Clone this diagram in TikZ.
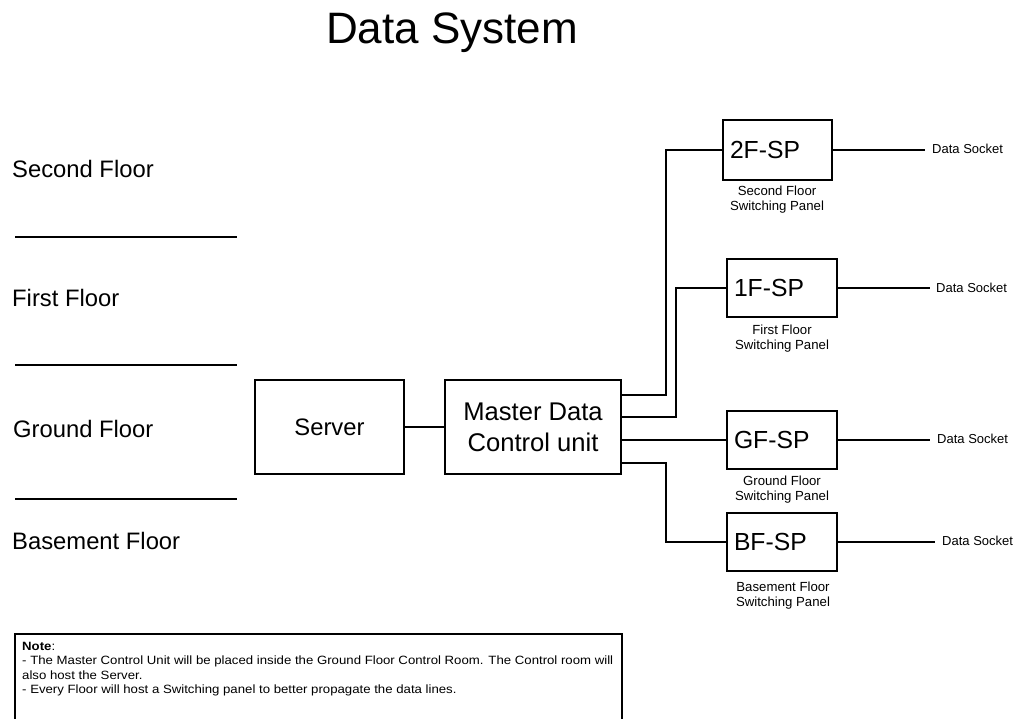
\documentclass[tikz,border=0pt]{standalone}
\usepackage{fontspec}
\setmainfont{Liberation Sans}
\newfontfamily\notefont[FakeStretch=1.10]{Liberation Sans}
\begin{document}
\begin{tikzpicture}[x=1pt,y=-1pt,
  conn/.style={line width=1.8pt,black},
  blk/.style={draw,line width=1.8pt,inner sep=0pt,align=center},
  spbox/.style={draw,line width=1.8pt,inner xsep=7pt,inner ysep=0pt,text width=95pt,align=left,font=\fontsize{24.7}{28}\selectfont},
  floorlbl/.style={anchor=west,inner sep=0pt,font=\fontsize{23.8}{27}\selectfont},
  sublbl/.style={align=center,inner sep=0pt,font=\fontsize{13.2}{15}\selectfont},
  dslbl/.style={anchor=west,inner sep=0pt,font=\fontsize{13}{15}\selectfont}
]
\clip (0,0) rectangle (1019,719);
\fill[white] (0,0) rectangle (1019,719);

% title
\node[inner sep=0pt,font=\fontsize{44}{50}\selectfont] (title) at (452,33) {Data System};

% floors
\node[floorlbl] (f2) at (12,169) {Second Floor};
\node[floorlbl] (f1) at (12,298) {First Floor};
\node[floorlbl] (f0) at (13,429) {Ground Floor};
\node[floorlbl] (fb) at (12,541) {Basement Floor};
\draw[conn] (15,237) -- (237,237);
\draw[conn] (15,365) -- (237,365);
\draw[conn] (15,499) -- (237,499);

% main boxes
\node[blk,minimum width=149pt,minimum height=94pt,font=\fontsize{23.8}{27}\selectfont] (server) at (329.5,427) {Server};
\node[blk,minimum width=176pt,minimum height=94pt,font=\fontsize{25.6}{31}\selectfont] (mdcu) at (533,427) {Master Data\\Control unit};
\draw[conn] (server.east) -- (mdcu.west);

% switching panels
\node[spbox,minimum height=60pt] (sp2) at (777.5,150) {2F-SP};
\node[spbox,text width=96pt,minimum height=58pt] (sp1) at (782,288) {1F-SP};
\node[spbox,text width=96pt,minimum height=58pt] (spg) at (782,440) {GF-SP};
\node[spbox,text width=96pt,minimum height=58pt] (spb) at (782,542) {BF-SP};

\node[sublbl] (l2) at (777,199.5) {Second Floor\\Switching Panel};
\node[sublbl] (l1) at (782,339) {First Floor\\Switching Panel};
\node[sublbl] (lg) at (782,489.5) {Ground Floor\\Switching Panel};
\node[sublbl] (lb) at (783,596) {Basement Floor\\Switching Panel};

% connectors from master unit
\draw[conn] (mdcu.east |- 0,395) -| (666,150) -- (sp2.west);
\draw[conn] (mdcu.east |- 0,417) -| (676,288) -- (sp1.west);
\draw[conn] (mdcu.east |- spg.west) -- (spg.west);
\draw[conn] (mdcu.east |- 0,463) -| (666,542) -- (spb.west);

% data sockets
\node[dslbl] (d2) at (932,149) {Data Socket};
\node[dslbl] (d1) at (936,288) {Data Socket};
\node[dslbl] (dg) at (937,439) {Data Socket};
\node[dslbl] (db) at (942,541) {Data Socket};
\draw[conn] (sp2.east) -- (925,150);
\draw[conn] (sp1.east) -- (930,288);
\draw[conn] (spg.east) -- (930,440);
\draw[conn] (spb.east) -- (935,542);

% note
\draw[line width=2pt] (15,634) rectangle (622,740);
\node[anchor=north west,inner sep=0pt,align=left,font=\notefont\fontsize{12}{14.3}\selectfont] (note) at (22,642)
{\textbf{Note}:\\
- The Master Control Unit will be placed inside the Ground Floor Control Room. The Control room will\\
also host the Server.\\
- Every Floor will host a Switching panel to better propagate the data lines.};
\end{tikzpicture}
\end{document}
